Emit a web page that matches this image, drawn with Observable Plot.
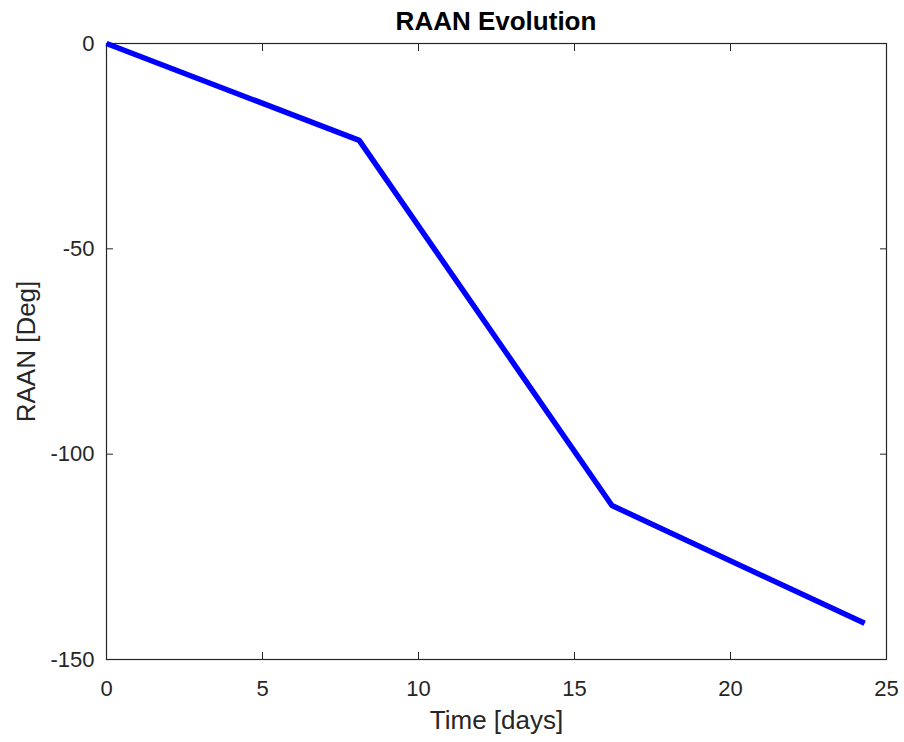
<!DOCTYPE html>
<html>
<head>
<meta charset="utf-8">
<script src="https://cdn.jsdelivr.net/npm/d3@7"></script>
<script src="https://cdn.jsdelivr.net/npm/@observablehq/plot@0.6"></script>
<style>
  html, body { margin: 0; padding: 0; background: #fff; }
  #wrap { width: 904px; font-family: "Liberation Sans", Arial, Helvetica, sans-serif; }
  #title {
    height: 30px; box-sizing: border-box; padding-top: 8px;
    line-height: 26px; font-size: 26px; font-weight: bold; color: #000;
    padding-left: 106px; width: 886px; text-align: center; overflow: visible;
  }
  svg { display: block; }
</style>
</head>
<body>
<div id="wrap">
  <div id="title">RAAN Evolution</div>
  <div id="chart"></div>
</div>
<script>
// RAAN history over the propagation (days vs degrees)
const timeDays = [0, 8.1, 16.2, 24.3];
const raanDeg = [0, -23.6, -112.5, -141.2];

const xTicks = [0, 5, 10, 15, 20, 25];
const yTicks = [0, -50, -100, -150];
const xLabel = "Time [days]";
const yLabel = "RAAN [Deg]";

const rows = timeDays.map((t, i) => ({t, raan: raanDeg[i]}));
const axisColor = "#262626";
const fmt = d => String(d);

const chart = Plot.plot({
  width: 904,
  height: 712,
  marginTop: 13,
  marginLeft: 106,
  marginRight: 18,
  marginBottom: 83,
  style: {fontFamily: "'Liberation Sans', Arial, Helvetica, sans-serif", color: axisColor, background: "#fff"},
  x: {domain: [0, 25], ticks: xTicks},
  y: {domain: [-150, 0], ticks: yTicks},
  marks: [
    // inward ticks on all four sides
    Plot.axisX(xTicks, {anchor: "bottom", tickSize: 7, dy: -7, tickFormat: () => "", label: null, stroke: axisColor}),
    Plot.axisX(xTicks, {anchor: "top", tickSize: 7, dy: 7, tickFormat: () => "", label: null, stroke: axisColor}),
    Plot.axisY(yTicks, {anchor: "left", tickSize: 7, dx: 7, tickFormat: () => "", label: null, stroke: axisColor}),
    Plot.axisY(yTicks, {anchor: "right", tickSize: 7, dx: -7, tickFormat: () => "", label: null, stroke: axisColor}),
    // tick labels
    Plot.axisX(xTicks, {anchor: "bottom", tickSize: 0, tickPadding: 21, tickFormat: fmt, label: null, fontSize: 22, fill: axisColor}),
    Plot.axisY(yTicks, {anchor: "left", tickSize: 0, tickPadding: 12, tickFormat: fmt, label: null, fontSize: 22, fill: axisColor}),
    Plot.frame({stroke: axisColor, strokeWidth: 1.2}),
    Plot.line(rows, {x: "t", y: "raan", stroke: "#0000ff", strokeWidth: 5.5, strokeLinecap: "butt", strokeLinejoin: "miter"}),
    // axis titles
    Plot.text([xLabel], {frameAnchor: "bottom", dy: 61, lineAnchor: "middle", textAnchor: "middle", fontSize: 26, fill: axisColor}),
    Plot.text([yLabel], {frameAnchor: "left", dx: -80, rotate: -90, textAnchor: "middle", lineAnchor: "middle", fontSize: 26, fill: axisColor})
  ]
});
document.getElementById("chart").appendChild(chart);
</script>
</body>
</html>
